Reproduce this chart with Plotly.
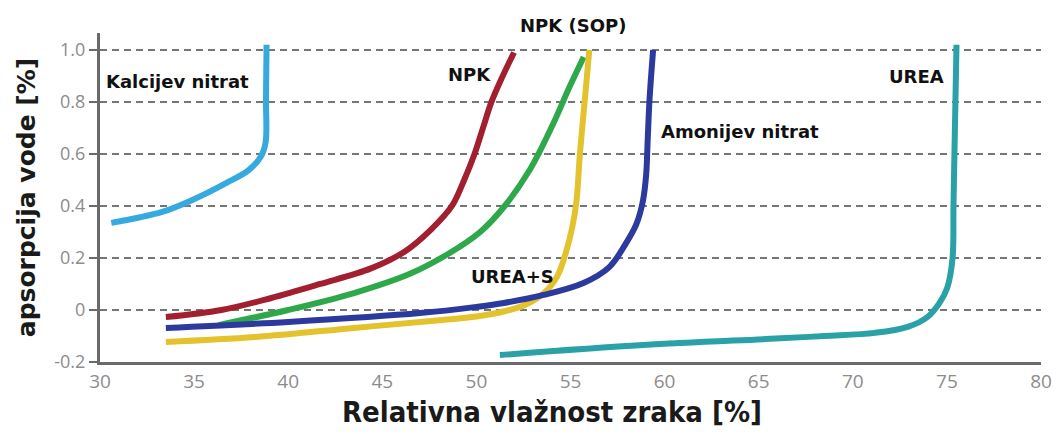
import plotly.graph_objects as go

# ---- data ----
kalcijev_x = [30.6, 33.3, 34.9, 36.7, 37.9, 38.55, 38.8, 38.82, 38.85]
kalcijev_y = [0.335, 0.377, 0.423, 0.488, 0.538, 0.59, 0.645, 0.81, 1.02]

npk_x = [33.5, 36.45, 39.1, 41.7, 44.4, 46.2, 47.6, 48.7, 49.35, 49.9, 50.35, 50.8, 51.4, 52.0]
npk_y = [-0.027, 0.0, 0.046, 0.1, 0.16, 0.225, 0.31, 0.4, 0.5, 0.6, 0.7, 0.8, 0.9, 0.99]

npk_sop_x = [36.3, 40.0, 43.5, 46.5, 48.6, 50.2, 51.46, 52.83, 54.1, 54.95, 55.7]
npk_sop_y = [-0.058, 0.0, 0.065, 0.14, 0.22, 0.3, 0.396, 0.538, 0.719, 0.858, 0.973]

urea_s_x = [33.5, 38.25, 43.5, 47.9, 50.0, 51.5, 52.6, 53.6, 54.3, 54.75, 55.1, 55.32, 55.5, 55.75, 56.0]
urea_s_y = [-0.123, -0.104, -0.069, -0.04, -0.025, -0.005, 0.02, 0.065, 0.13, 0.22, 0.32, 0.42, 0.6, 0.8, 1.0]

amon_x = [33.5, 40.0, 47.0, 50.0, 51.46, 53.57, 55.69, 57.06, 57.96, 58.5, 58.85, 59.02, 59.1, 59.2, 59.39]
amon_y = [-0.069, -0.046, -0.012, 0.012, 0.027, 0.058, 0.104, 0.165, 0.258, 0.33, 0.42, 0.52, 0.65, 0.81, 1.0]

urea_x = [51.25, 58.86, 65.9, 68.5, 71.17, 72.92, 73.97, 74.61, 75.03, 75.3, 75.35, 75.4, 75.51]
urea_y = [-0.173, -0.135, -0.11, -0.1, -0.088, -0.065, -0.027, 0.027, 0.088, 0.2, 0.4, 0.6, 1.02]

series_names = ["Kalcijev nitrat", "NPK", "NPK (SOP)", "UREA+S", "Amonijev nitrat", "UREA"]
series_colors = ["#36a9df", "#a21f2f", "#2fa84b", "#e4c22d", "#2b3a9c", "#2aa0a7"]

# in-plot labels (data coordinates)
label_text = ["Kalcijev nitrat", "NPK", "Amonijev nitrat", "UREA", "UREA+S"]
label_x = [34.1, 49.61, 63.99, 73.39, 51.93]
label_y = [0.88, 0.904, 0.685, 0.896, 0.127]
# label above the plot area
top_label_text = "NPK (SOP)"
top_label_x = 55.11

x_ticks = [30, 35, 40, 45, 50, 55, 60, 65, 70, 75, 80]
y_ticks = [-0.2, 0, 0.2, 0.4, 0.6, 0.8, 1.0]
y_tick_text = ["-0.2", "0", "0.2", "0.4", "0.6", "0.8", "1.0"]

x_title = "Relativna vlažnost zraka [%]"
y_title = "apsorpcija vode [%]"

fig = go.Figure()
all_x = [kalcijev_x, npk_x, npk_sop_x, urea_s_x, amon_x, urea_x]
all_y = [kalcijev_y, npk_y, npk_sop_y, urea_s_y, amon_y, urea_y]
for name, col, xs, ys in zip(series_names, series_colors, all_x, all_y):
    fig.add_trace(go.Scatter(
        x=xs, y=ys, mode="lines", name=name,
        line=dict(color=col, width=6, shape="spline", smoothing=1.0),
        showlegend=False, hoverinfo="skip"))

lab_font = dict(family="DejaVu Sans", size=18, color="#111111", weight="bold")
for t, x, y in zip(label_text, label_x, label_y):
    fig.add_annotation(x=x, y=y, xref="x", yref="y", text=t, showarrow=False,
                       font=lab_font, xanchor="center", yanchor="middle")
fig.add_annotation(x=top_label_x, y=1.024, xref="x", yref="paper", text=top_label_text,
                   showarrow=False, font=lab_font, xanchor="center", yanchor="middle")

# x-axis title (slightly left of the plot centre, as in the reference)
fig.add_annotation(x=0.48, y=-0.152, xref="paper", yref="paper", text=x_title,
                   showarrow=False, xanchor="center", yanchor="middle",
                   font=dict(family="DejaVu Sans Condensed", size=29, color="#1a1a1a", weight="bold"))

# page body has an 8px margin, so the figure is 8px smaller than the window
fig.update_layout(
    width=1056, height=426,
    margin=dict(l=92, r=16, t=25, b=72),
    paper_bgcolor="white", plot_bgcolor="white",
)
fig.update_xaxes(
    range=[30, 80], tickvals=x_ticks, showgrid=False, zeroline=False,
    showline=True, linecolor="#6a6a6a", linewidth=3, ticks="",
    tickfont=dict(family="Open Sans", size=19, color="#8c8c8c"),
)
fig.update_yaxes(
    range=[-0.2, 1.065], tickvals=y_ticks, ticktext=y_tick_text,
    showgrid=True, gridcolor="#757575", gridwidth=2, griddash="7px,5px",
    zeroline=False, showline=True, linecolor="#6a6a6a", linewidth=3,
    ticks="outside", ticklen=8, tickwidth=2, tickcolor="#6a6a6a",
    tickfont=dict(family="Open Sans", size=18, color="#8c8c8c"),
    title=dict(text=y_title, standoff=12,
               font=dict(family="DejaVu Sans", size=25, color="#1a1a1a", weight="bold")),
)

fig.write_html("out.html")
